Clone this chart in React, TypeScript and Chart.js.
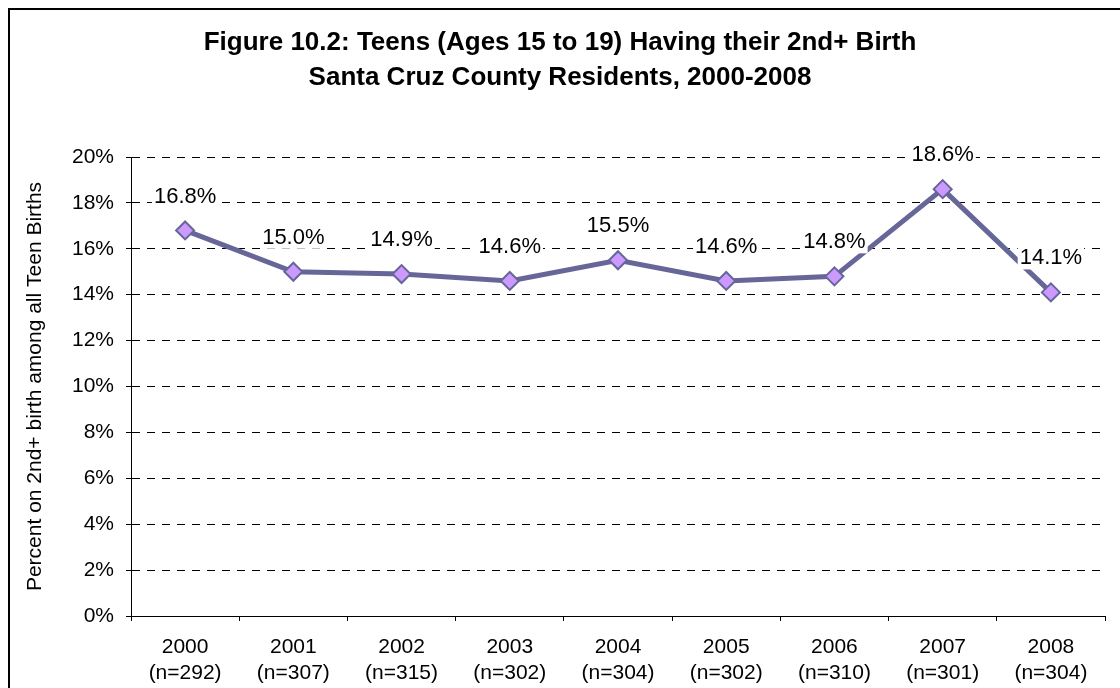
import React, { useEffect, useRef } from "react";
import { Chart, registerables } from "chart.js";

Chart.register(...registerables);

const titleLines = [
  "Figure 10.2: Teens (Ages 15 to 19) Having their 2nd+ Birth",
  "Santa Cruz County Residents, 2000-2008",
];
const years = ["2000", "2001", "2002", "2003", "2004", "2005", "2006", "2007", "2008"];
const counts = ["(n=292)", "(n=307)", "(n=315)", "(n=302)", "(n=304)", "(n=302)", "(n=310)", "(n=301)", "(n=304)"];
const percents = [16.8, 15.0, 14.9, 14.6, 15.5, 14.6, 14.8, 18.6, 14.1];
const yAxisTitle = "Percent on 2nd+ birth among all Teen Births";

const FONT = '"Liberation Sans", Arial, sans-serif';

const decorPlugin = {
  id: "decor",
  beforeDraw(chart: any) {
    const ctx = chart.ctx;
    ctx.save();
    ctx.fillStyle = "#fff";
    ctx.fillRect(0, 0, chart.width, chart.height);
    ctx.strokeStyle = "#000";
    ctx.lineWidth = 2;
    ctx.strokeRect(9, 9, 2000, 2000);
    ctx.fillStyle = "#000";
    ctx.font = `bold 26px ${FONT}`;
    ctx.textAlign = "center";
    ctx.textBaseline = "middle";
    ctx.fillText(titleLines[0], 560, 43);
    ctx.fillText(titleLines[1], 560, 78);
    ctx.restore();
  },
  afterDatasetsDraw(chart: any) {
    const ctx = chart.ctx;
    const meta = chart.getDatasetMeta(0);
    ctx.save();
    ctx.font = `22px ${FONT}`;
    ctx.textAlign = "center";
    ctx.textBaseline = "middle";
    meta.data.forEach((pt: any, i: number) => {
      const text = percents[i].toFixed(1) + "%";
      const w = ctx.measureText(text).width;
      const cx = pt.x;
      const cy = pt.y - 35;
      ctx.fillStyle = "#fff";
      ctx.fillRect(cx - w / 2 - 2, cy - 12, w + 4, 24);
      ctx.fillStyle = "#000";
      ctx.fillText(text, cx, cy + 1);
    });
    ctx.restore();
  },
};

export default function App() {
  const ref = useRef<HTMLCanvasElement>(null);
  useEffect(() => {
    document.body.style.overflow = "hidden";
    const chart = new Chart(ref.current as HTMLCanvasElement, {
      type: "line",
      data: {
        labels: years.map((y, i) => [y, counts[i]]),
        datasets: [
          {
            data: percents,
            borderColor: "#666699",
            borderWidth: 5,
            backgroundColor: "#CC99FF",
            pointStyle: "rectRot",
            pointRadius: 9,
            pointBorderWidth: 2,
            pointBackgroundColor: "#CC99FF",
            pointBorderColor: "#666699",
            tension: 0,
          },
        ],
      },
      options: {
        responsive: false,
        animation: false,
        layout: { padding: { left: 0, top: 157, right: 15, bottom: 0 } },
        plugins: {
          legend: { display: false },
          tooltip: { enabled: false },
          title: { display: false },
        },
        scales: {
          x: {
            offset: true,
            grid: {
              display: true,
              drawOnChartArea: false,
              drawTicks: true,
              tickLength: 5,
              color: "#000",
              tickColor: "#000",
              offset: true,
            },
            border: { display: true, color: "#000", width: 1 },
            ticks: {
              color: "#000",
              padding: 13,
              maxRotation: 0,
              autoSkip: false,
              font: { family: FONT, size: 21, lineHeight: 1.25 },
            },
            afterFit(scale: any) {
              scale.height = 72;
            },
          },
          y: {
            min: 0,
            max: 20,
            grid: {
              color: "#000",
              lineWidth: 1,
              tickLength: 5,
              tickColor: "#000",
              tickBorderDash: [],
              borderDash: [8, 7],
            },
            border: { display: true, color: "#000", width: 1, dash: [8, 7] },
            ticks: {
              stepSize: 2,
              color: "#000",
              padding: 12,
              font: { family: FONT, size: 21 },
              callback: (v: any) => v + "%",
            },
            title: {
              display: true,
              text: yAxisTitle,
              color: "#000",
              font: { family: FONT, size: 21 },
              padding: { top: 23, bottom: 0 },
            },
            afterFit(scale: any) {
              scale.width = 131;
            },
          },
        },
      },
      plugins: [decorPlugin],
    } as any);
    return () => chart.destroy();
  }, []);
  return (
    <div style={{ position: "fixed", left: 0, top: 0, width: 1120, height: 688 }}>
      <canvas ref={ref} width={1120} height={688} style={{ display: "block" }} />
    </div>
  );
}
